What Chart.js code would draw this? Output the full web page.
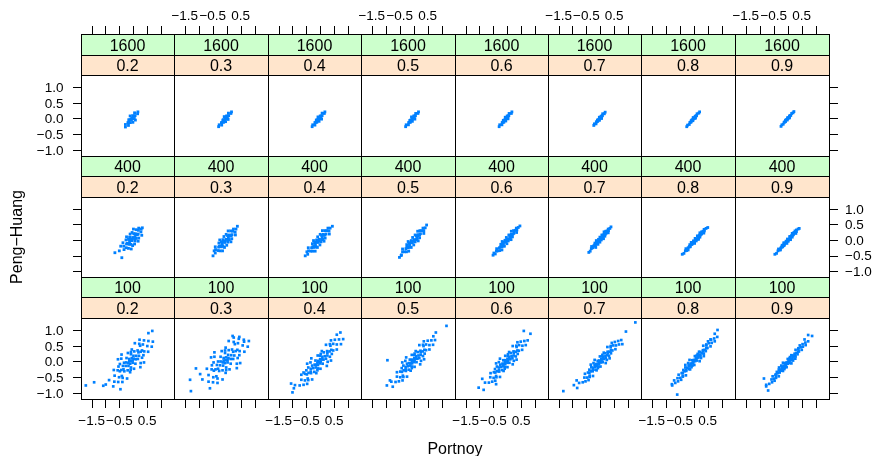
<!DOCTYPE html>
<html><head><meta charset="utf-8">
<script src="https://cdn.jsdelivr.net/npm/chart.js@4.4.1/dist/chart.umd.min.js"></script>
<style>
html,body{margin:0;padding:0;background:#fff;}
#wrap{position:relative;width:874px;height:456px;overflow:hidden;background:#fff;}
#wrap canvas{position:absolute;left:0;top:0;}
</style></head>
<body><div id="wrap"></div>
<script>
// ---------- categories & ticks ----------
const sampleSizes = ['1600', '400', '100'];
const tauLevels = ['0.2','0.3','0.4','0.5','0.6','0.7','0.8','0.9'];
const xTickValues = [-1.5, -1, -0.5, 0, 0.5, 1];
const xLabelValues = [-1.5, -0.5, 0.5];
const xLabelTexts = ['\u22121.5', '\u22120.5', '0.5'];
const yTickValues = [-1, -0.5, 0, 0.5, 1];
const yLabelTexts = ['\u22121.0', '\u22120.5', '0.0', '0.5', '1.0'];
const xRange = [-1.884, 1.474];
const yRange = [-1.19, 1.38];

// ---------- data: [Portnoy, Peng-Huang] pairs ----------
const n1600_t02 = [[-0.06,-0.02],[0.00,-0.01],[-0.12,-0.04],[-0.02,0.09],[-0.10,-0.13],[0.07,0.09],[-0.19,-0.13],[0.05,0.18],[-0.17,-0.22],[0.16,0.15],[-0.28,-0.19],[0.17,0.21],[-0.28,-0.27],[-0.11,0.08],[-0.01,-0.12],[0.08,-0.05],[-0.05,0.01],[-0.07,-0.05],[0.04,0.00],[-0.16,-0.04],[0.04,0.08],[-0.16,-0.12]];
const n1600_t03 = [[-0.06,-0.02],[0.00,0.00],[-0.12,-0.04],[-0.01,0.08],[-0.11,-0.12],[0.07,0.09],[-0.19,-0.13],[0.06,0.17],[-0.18,-0.21],[0.15,0.16],[-0.27,-0.20],[0.17,0.21],[-0.29,-0.26],[-0.09,0.06],[-0.04,-0.10],[0.05,-0.03],[-0.05,0.01],[-0.07,-0.05],[0.02,0.01],[-0.14,-0.05],[0.04,0.08],[-0.16,-0.12]];
const n1600_t04 = [[-0.06,-0.02],[-0.01,0.00],[-0.11,-0.04],[0.00,0.08],[-0.12,-0.12],[0.07,0.09],[-0.19,-0.13],[0.07,0.17],[-0.19,-0.21],[0.15,0.16],[-0.27,-0.20],[0.17,0.21],[-0.29,-0.26],[-0.08,0.05],[-0.04,-0.09],[0.05,-0.02],[-0.05,0.01],[-0.07,-0.05],[0.02,0.01],[-0.14,-0.05],[0.04,0.08],[-0.16,-0.12]];
const n1600_t05 = [[-0.06,-0.02],[-0.01,0.01],[-0.11,-0.05],[0.00,0.08],[-0.12,-0.12],[0.06,0.09],[-0.18,-0.13],[0.07,0.16],[-0.19,-0.20],[0.15,0.16],[-0.27,-0.20],[0.17,0.21],[-0.29,-0.26],[-0.08,0.05],[-0.05,-0.09],[0.04,-0.02],[-0.05,0.01],[-0.07,-0.05],[0.02,0.02],[-0.14,-0.06],[0.04,0.08],[-0.16,-0.12]];
const n1600_t06 = [[-0.06,-0.02],[-0.01,0.01],[-0.11,-0.05],[0.00,0.08],[-0.12,-0.12],[0.06,0.09],[-0.18,-0.13],[0.07,0.16],[-0.19,-0.20],[0.15,0.16],[-0.27,-0.20],[0.17,0.21],[-0.29,-0.26],[-0.07,0.04],[-0.05,-0.08],[0.03,-0.01],[-0.05,0.01],[-0.08,-0.05],[0.02,0.02],[-0.14,-0.06],[0.04,0.08],[-0.16,-0.12]];
const n1600_t07 = [[-0.03,-0.01],[0.01,0.02],[-0.07,-0.04],[0.03,0.07],[-0.09,-0.09],[0.08,0.09],[-0.14,-0.11],[0.09,0.15],[-0.15,-0.17],[0.15,0.15],[-0.21,-0.17],[0.18,0.20],[-0.23,-0.22],[-0.03,0.04],[-0.03,-0.06],[0.05,0.00],[-0.02,0.01],[-0.04,-0.03],[0.04,0.03],[-0.10,-0.05],[0.06,0.08],[-0.12,-0.10]];
const n1600_t08 = [[-0.02,-0.02],[0.03,0.01],[-0.07,-0.05],[0.05,0.07],[-0.09,-0.11],[0.10,0.09],[-0.14,-0.13],[0.12,0.15],[-0.16,-0.19],[0.18,0.17],[-0.22,-0.21],[0.21,0.21],[-0.25,-0.26],[-0.02,0.03],[-0.03,-0.07],[0.06,0.01],[0.00,0.01],[-0.04,-0.04],[0.05,0.03],[-0.09,-0.07],[0.08,0.08],[-0.12,-0.12]];
const n1600_t09 = [[-0.01,-0.01],[0.04,0.02],[-0.06,-0.04],[0.06,0.08],[-0.08,-0.10],[0.11,0.10],[-0.13,-0.12],[0.14,0.16],[-0.16,-0.18],[0.19,0.18],[-0.21,-0.20],[0.22,0.22],[-0.24,-0.25],[0.00,0.03],[-0.02,-0.05],[0.06,0.02],[0.01,0.01],[-0.03,-0.03],[0.06,0.04],[-0.08,-0.06],[0.09,0.09],[-0.11,-0.11]];

const n400_t02 = [[-0.03,0.03],[0.06,0.04],[-0.12,0.02],[0.02,0.20],[-0.08,-0.14],[0.15,0.17],[-0.21,-0.11],[0.11,0.33],[-0.17,-0.27],[0.28,0.26],[-0.34,-0.20],[0.29,0.35],[-0.33,-0.31],[-0.11,0.19],[0.05,-0.13],[0.18,-0.04],[-0.24,0.10],[0.20,0.06],[-0.26,0.00],[0.01,0.35],[-0.07,-0.29],[0.07,-0.03],[-0.13,0.09],[0.07,0.11],[-0.13,-0.05],[0.08,0.20],[-0.14,-0.14],[0.31,0.15],[-0.37,-0.09],[0.20,0.38],[-0.02,0.08],[-0.04,-0.02],[0.11,0.05],[-0.17,0.02],[0.11,0.17],[-0.17,-0.11],[0.18,0.19],[-0.24,-0.13],[0.19,0.31],[-0.25,-0.25],[-0.04,0.24],[-0.02,-0.18],[-0.41,-0.57],[-0.66,-0.41],[0.33,0.39],[-0.50,-0.35],[-0.45,-0.20]];
const n400_t03 = [[-0.05,-0.03],[0.05,0.00],[-0.15,-0.06],[0.03,0.14],[-0.13,-0.20],[0.16,0.14],[-0.26,-0.20],[0.14,0.29],[-0.24,-0.35],[0.30,0.25],[-0.40,-0.31],[0.33,0.35],[-0.41,-0.42],[-0.10,0.11],[0.00,-0.17],[0.15,-0.06],[-0.25,0.00],[0.18,0.04],[-0.28,-0.10],[0.05,0.29],[-0.15,-0.35],[0.04,-0.07],[-0.14,0.01],[0.06,0.07],[-0.16,-0.13],[0.09,0.16],[-0.19,-0.22],[0.31,0.16],[-0.41,-0.22],[0.24,0.35],[-0.03,0.02],[-0.07,-0.08],[0.09,0.01],[-0.19,-0.07],[0.11,0.13],[-0.21,-0.19],[0.19,0.17],[-0.29,-0.23],[0.21,0.28],[-0.31,-0.34],[-0.02,0.18],[-0.08,-0.24],[-0.49,-0.51],[0.38,0.44],[-0.45,-0.35]];
const n400_t04 = [[-0.05,-0.03],[0.05,0.01],[-0.15,-0.07],[0.05,0.15],[-0.15,-0.21],[0.17,0.16],[-0.27,-0.22],[0.17,0.30],[-0.27,-0.36],[0.32,0.29],[-0.42,-0.35],[0.36,0.38],[-0.45,-0.46],[-0.09,0.10],[-0.01,-0.16],[0.14,-0.04],[-0.24,-0.02],[0.18,0.06],[-0.28,-0.12],[0.08,0.30],[-0.18,-0.36],[0.03,-0.06],[-0.13,0.00],[0.07,0.08],[-0.17,-0.14],[0.11,0.18],[-0.21,-0.24],[0.33,0.19],[-0.43,-0.25],[0.28,0.38],[-0.03,0.02],[-0.07,-0.08],[0.10,0.03],[-0.20,-0.09],[0.13,0.15],[-0.23,-0.21],[0.21,0.19],[-0.31,-0.25],[0.24,0.30],[-0.34,-0.36],[0.00,0.18],[-0.10,-0.24],[-0.54,-0.51],[0.44,0.44],[-0.48,-0.38]];
const n400_t05 = [[-0.02,-0.04],[0.08,0.01],[-0.12,-0.09],[0.09,0.14],[-0.13,-0.22],[0.21,0.16],[-0.25,-0.24],[0.22,0.30],[-0.26,-0.38],[0.36,0.30],[-0.40,-0.38],[0.41,0.39],[-0.44,-0.48],[-0.04,0.08],[0.00,-0.16],[0.16,-0.03],[-0.20,-0.05],[0.21,0.07],[-0.25,-0.15],[0.14,0.28],[-0.18,-0.36],[0.05,-0.06],[-0.09,-0.02],[0.11,0.07],[-0.15,-0.15],[0.15,0.17],[-0.19,-0.25],[0.36,0.21],[-0.40,-0.29],[0.33,0.38],[0.01,0.01],[-0.05,-0.09],[0.12,0.03],[-0.16,-0.11],[0.16,0.14],[-0.20,-0.22],[0.24,0.20],[-0.28,-0.28],[0.29,0.30],[-0.33,-0.38],[0.05,0.16],[-0.09,-0.24],[-0.51,-0.56],[0.46,0.48],[-0.45,-0.50]];
const n400_t06 = [[-0.02,-0.02],[0.07,0.03],[-0.11,-0.07],[0.09,0.15],[-0.13,-0.19],[0.20,0.18],[-0.24,-0.22],[0.23,0.30],[-0.27,-0.34],[0.35,0.32],[-0.39,-0.36],[0.40,0.40],[-0.43,-0.45],[-0.03,0.08],[-0.01,-0.12],[0.14,0.01],[-0.18,-0.05],[0.19,0.10],[-0.23,-0.14],[0.15,0.28],[-0.19,-0.32],[0.04,-0.03],[-0.08,-0.01],[0.10,0.09],[-0.14,-0.13],[0.15,0.18],[-0.19,-0.22],[0.34,0.24],[-0.38,-0.28],[0.33,0.38],[0.01,0.03],[-0.05,-0.07],[0.11,0.05],[-0.15,-0.09],[0.16,0.16],[-0.20,-0.20],[0.24,0.21],[-0.28,-0.25],[0.29,0.31],[-0.33,-0.35],[0.06,0.16],[-0.10,-0.20],[-0.51,-0.49],[0.46,0.45],[-0.48,-0.42]];
const n400_t07 = [[-0.01,0.01],[0.06,0.06],[-0.08,-0.04],[0.09,0.15],[-0.11,-0.09],[0.18,0.18],[-0.20,-0.16],[0.20,0.28],[-0.22,-0.20],[0.30,0.30],[-0.32,-0.28],[0.35,0.37],[-0.36,-0.36],[-0.01,0.09],[-0.01,-0.07],[0.12,0.04],[-0.14,-0.02],[0.17,0.12],[-0.19,-0.10],[0.14,0.26],[-0.16,-0.24],[0.04,0.00],[-0.06,0.02],[0.09,0.11],[-0.11,-0.09],[0.14,0.18],[-0.16,-0.14],[0.29,0.23],[-0.31,-0.21],[0.29,0.35],[0.02,0.05],[-0.04,-0.03],[0.10,0.08],[-0.12,-0.06],[0.14,0.16],[-0.16,-0.14],[0.21,0.21],[-0.23,-0.19],[0.25,0.29],[-0.27,-0.25],[0.06,0.16],[-0.08,-0.14],[-0.41,-0.40],[0.39,0.42]];
const n400_t08 = [[0.04,-0.03],[0.12,0.02],[-0.04,-0.08],[0.15,0.12],[-0.07,-0.14],[0.24,0.16],[-0.16,-0.22],[0.28,0.26],[-0.20,-0.32],[0.38,0.29],[-0.30,-0.35],[0.44,0.37],[-0.35,-0.43],[0.05,0.05],[0.03,-0.11],[0.17,0.02],[-0.09,-0.08],[0.22,0.09],[-0.14,-0.15],[0.22,0.23],[-0.14,-0.21],[0.09,-0.03],[-0.01,-0.03],[0.15,0.08],[-0.07,-0.14],[0.21,0.16],[-0.13,-0.22],[0.36,0.22],[-0.28,-0.28],[0.37,0.34],[0.07,0.01],[0.01,-0.07],[0.16,0.05],[-0.08,-0.11],[0.21,0.14],[-0.13,-0.20],[0.28,0.19],[-0.20,-0.25],[0.33,0.28],[-0.25,-0.34],[0.13,0.13],[-0.05,-0.12],[-0.41,-0.46],[0.50,0.40]];
const n400_t09 = [[-0.02,-0.04],[0.06,0.02],[-0.10,-0.10],[0.09,0.10],[-0.13,-0.18],[0.18,0.15],[-0.22,-0.23],[0.22,0.24],[-0.26,-0.32],[0.31,0.27],[-0.35,-0.35],[0.37,0.35],[-0.40,-0.43],[-0.01,0.03],[-0.03,-0.11],[0.10,0.01],[-0.14,-0.09],[0.16,0.09],[-0.20,-0.17],[0.16,0.21],[-0.20,-0.22],[0.02,-0.04],[-0.06,-0.04],[0.09,0.07],[-0.13,-0.15],[0.14,0.14],[-0.18,-0.22],[0.29,0.21],[-0.33,-0.29],[0.31,0.32],[0.01,0.00],[-0.05,-0.08],[0.09,0.04],[-0.13,-0.12],[0.14,0.12],[-0.18,-0.20],[0.21,0.18],[-0.25,-0.26],[0.26,0.29],[-0.30,-0.32],[0.07,0.11],[-0.11,-0.13],[-0.46,-0.46],[0.41,0.37]];

const n100_t02 = [[-0.08,0.02],[0.09,0.07],[-0.25,-0.03],[0.04,0.32],[-0.20,-0.28],[0.27,0.31],[-0.43,-0.27],[0.22,0.56],[-0.38,-0.52],[0.51,0.49],[-0.67,-0.45],[0.55,0.65],[-0.68,-0.64],[-0.19,0.27],[0.03,-0.23],[0.27,-0.05],[-0.43,0.09],[0.32,0.12],[-0.48,-0.08],[0.06,0.58],[-0.22,-0.54],[0.08,-0.07],[-0.24,0.11],[0.11,0.18],[-0.27,-0.14],[0.16,0.35],[-0.32,-0.31],[0.54,0.31],[-0.70,-0.27],[0.39,0.67],[-0.54,-0.65],[0.26,-0.18],[-0.42,0.22],[0.40,0.32],[-0.56,-0.28],[-0.08,0.30],[-0.09,-0.26],[0.71,0.63],[-0.87,-0.59],[0.23,0.69],[-0.39,-0.65],[0.39,-0.03],[-0.55,0.07],[-0.14,0.08],[-0.02,-0.04],[0.02,0.09],[-0.18,-0.05],[0.67,0.47],[-0.05,0.11],[-0.11,-0.07],[0.17,0.08],[-0.33,-0.04],[0.19,0.29],[-0.35,-0.25],[0.32,0.35],[-0.48,-0.31],[0.35,0.54],[-0.51,-0.50],[-0.05,0.38],[-0.11,-0.34],[0.37,0.20],[-0.53,-0.16],[0.25,0.50],[-0.41,-0.46],[-0.08,0.23],[-0.08,-0.19],[0.21,0.18],[-0.37,-0.14],[-0.02,0.03],[-0.14,0.01],[0.01,0.18],[-0.17,-0.14],[-1.71,-0.76],[-1.41,-0.66],[-1.08,-0.77],[-0.99,-0.73],[-0.72,-0.79],[-0.46,-0.88],[0.69,0.97],[0.55,0.90]];
const n100_t03 = [[-0.04,0.04],[0.14,0.08],[-0.22,0.00],[0.07,0.36],[-0.15,-0.28],[0.32,0.33],[-0.40,-0.25],[0.25,0.62],[-0.33,-0.54],[0.57,0.51],[-0.65,-0.43],[0.61,0.69],[-0.65,-0.64],[-0.18,0.33],[0.10,-0.25],[0.36,-0.07],[-0.44,0.15],[0.39,0.11],[-0.47,-0.03],[0.07,0.65],[-0.15,-0.57],[0.14,-0.07],[-0.22,0.15],[0.16,0.20],[-0.24,-0.12],[0.19,0.38],[-0.27,-0.30],[0.63,0.31],[-0.71,-0.23],[0.43,0.72],[-0.49,-0.66],[0.36,-0.21],[-0.44,0.29],[0.46,0.33],[-0.54,-0.25],[-0.06,0.35],[-0.02,-0.27],[0.79,0.65],[-0.87,-0.57],[0.25,0.76],[-0.33,-0.68],[0.48,-0.05],[-0.56,0.13],[-0.11,0.11],[0.03,-0.03],[0.06,0.11],[-0.14,-0.03],[0.75,0.47],[-0.02,0.13],[-0.06,-0.05],[0.23,0.08],[-0.31,0.00],[0.23,0.31],[-0.31,-0.23],[0.38,0.37],[-0.46,-0.29],[0.40,0.58],[-0.48,-0.50],[-0.04,0.44],[-0.04,-0.36],[0.45,0.20],[-0.53,-0.12],[0.29,0.55],[-0.37,-0.47],[-0.06,0.27],[-0.02,-0.19],[0.27,0.19],[-0.35,-0.11],[0.03,0.05],[-0.11,0.03],[0.05,0.21],[-0.13,-0.13],[-1.28,-0.94],[-1.31,-0.58],[-1.10,-0.22],[-0.95,-0.40],[0.21,0.81],[0.45,0.78],[0.62,0.63],[-0.60,-0.85]];
const n100_t04 = [[-0.04,-0.02],[0.12,0.06],[-0.20,-0.10],[0.13,0.29],[-0.21,-0.33],[0.34,0.32],[-0.42,-0.36],[0.35,0.55],[-0.43,-0.59],[0.60,0.54],[-0.68,-0.58],[0.68,0.70],[-0.74,-0.76],[-0.09,0.19],[0.01,-0.23],[0.27,-0.01],[-0.35,-0.03],[0.35,0.15],[-0.43,-0.19],[0.21,0.53],[-0.29,-0.57],[0.09,-0.07],[-0.17,0.03],[0.17,0.17],[-0.25,-0.21],[0.25,0.33],[-0.33,-0.37],[0.60,0.38],[-0.68,-0.42],[0.53,0.69],[-0.60,-0.74],[0.24,-0.14],[-0.32,0.10],[0.47,0.35],[-0.55,-0.39],[0.02,0.24],[-0.10,-0.28],[0.83,0.71],[-0.91,-0.75],[0.39,0.67],[-0.47,-0.71],[0.39,0.03],[-0.47,-0.07],[-0.08,0.02],[0.00,-0.06],[0.07,0.07],[-0.15,-0.11],[0.75,0.55],[0.00,0.07],[-0.08,-0.11],[0.21,0.09],[-0.29,-0.13],[0.26,0.28],[-0.34,-0.32],[0.40,0.37],[-0.48,-0.41],[0.47,0.56],[-0.55,-0.60],[0.06,0.33],[-0.14,-0.37],[0.42,0.24],[-0.50,-0.28],[0.37,0.50],[-0.45,-0.54],[0.00,0.18],[-0.08,-0.22],[0.26,0.19],[-0.34,-0.23],[0.02,0.00],[-0.10,-0.04],[0.08,0.15],[-0.16,-0.19],[-1.00,-0.98],[-0.95,-0.85],[0.73,0.92],[0.60,0.85],[-0.60,-0.35],[-1.05,-0.70]];
const n100_t05 = [[-0.02,0.02],[0.13,0.09],[-0.17,-0.05],[0.14,0.30],[-0.18,-0.26],[0.32,0.32],[-0.36,-0.28],[0.33,0.53],[-0.37,-0.49],[0.56,0.52],[-0.60,-0.48],[0.63,0.67],[-0.65,-0.65],[-0.07,0.21],[0.03,-0.17],[0.26,0.02],[-0.30,0.02],[0.33,0.17],[-0.37,-0.13],[0.20,0.52],[-0.24,-0.48],[0.10,-0.02],[-0.14,0.06],[0.17,0.19],[-0.21,-0.15],[0.24,0.34],[-0.28,-0.30],[0.56,0.38],[-0.60,-0.34],[0.50,0.66],[-0.53,-0.63],[0.23,-0.09],[-0.27,0.13],[0.44,0.36],[-0.48,-0.32],[0.03,0.25],[-0.07,-0.21],[0.76,0.68],[-0.80,-0.64],[0.36,0.64],[-0.40,-0.60],[0.37,0.07],[-0.41,-0.03],[-0.06,0.06],[0.02,-0.02],[0.08,0.10],[-0.12,-0.06],[0.69,0.53],[0.02,0.10],[-0.06,-0.06],[0.20,0.11],[-0.24,-0.07],[0.25,0.29],[-0.29,-0.25],[0.38,0.37],[-0.42,-0.33],[0.44,0.54],[-0.48,-0.50],[0.07,0.33],[-0.11,-0.29],[0.39,0.25],[-0.43,-0.21],[0.35,0.49],[-0.39,-0.45],[0.02,0.20],[-0.06,-0.16],[0.25,0.21],[-0.29,-0.17],[0.03,0.04],[-0.07,0.00],[0.09,0.17],[-0.13,-0.13],[-0.96,-0.76],[-0.94,0.04],[1.17,1.13],[0.79,0.92],[0.70,0.80],[-0.85,-0.60],[-0.75,-0.80]];
const n100_t06 = [[-0.03,0.00],[0.11,0.07],[-0.17,-0.07],[0.13,0.27],[-0.19,-0.27],[0.31,0.31],[-0.37,-0.31],[0.33,0.50],[-0.39,-0.50],[0.55,0.50],[-0.61,-0.50],[0.62,0.65],[-0.66,-0.67],[-0.07,0.18],[0.01,-0.18],[0.24,0.02],[-0.30,-0.02],[0.31,0.16],[-0.37,-0.16],[0.20,0.49],[-0.26,-0.49],[0.08,-0.04],[-0.14,0.04],[0.16,0.17],[-0.22,-0.17],[0.23,0.32],[-0.29,-0.32],[0.54,0.37],[-0.60,-0.37],[0.49,0.63],[-0.54,-0.64],[0.20,-0.09],[-0.26,0.09],[0.42,0.34],[-0.48,-0.34],[0.03,0.23],[-0.09,-0.23],[0.74,0.67],[-0.80,-0.67],[0.37,0.61],[-0.43,-0.61],[0.34,0.06],[-0.40,-0.06],[-0.07,0.04],[0.01,-0.04],[0.07,0.08],[-0.13,-0.08],[0.67,0.52],[0.01,0.08],[-0.07,-0.08],[0.19,0.10],[-0.25,-0.10],[0.24,0.27],[-0.30,-0.27],[0.37,0.35],[-0.43,-0.35],[0.43,0.52],[-0.49,-0.52],[0.07,0.30],[-0.13,-0.30],[0.38,0.24],[-0.44,-0.24],[0.34,0.46],[-0.40,-0.46],[0.02,0.17],[-0.08,-0.17],[0.24,0.19],[-0.30,-0.19],[0.02,0.02],[-0.08,-0.02],[0.08,0.15],[-0.14,-0.15],[-1.03,-0.83],[-0.85,-0.90],[0.60,0.97],[0.84,0.88],[-0.90,-0.55],[-0.40,-0.72]];
const n100_t07 = [[0.00,0.00],[0.14,0.08],[-0.14,-0.08],[0.17,0.26],[-0.17,-0.26],[0.34,0.31],[-0.34,-0.31],[0.38,0.49],[-0.38,-0.49],[0.57,0.51],[-0.57,-0.51],[0.65,0.65],[-0.63,-0.66],[-0.01,0.16],[0.01,-0.16],[0.24,0.05],[-0.24,-0.05],[0.32,0.18],[-0.32,-0.18],[0.26,0.46],[-0.26,-0.46],[0.09,-0.02],[-0.09,0.02],[0.19,0.17],[-0.19,-0.17],[0.27,0.31],[-0.27,-0.31],[0.55,0.39],[-0.55,-0.39],[0.53,0.62],[-0.53,-0.63],[0.20,-0.05],[-0.20,0.05],[0.44,0.35],[-0.44,-0.35],[0.08,0.21],[-0.08,-0.21],[0.76,0.68],[-0.76,-0.68],[0.42,0.59],[-0.42,-0.59],[0.34,0.10],[-0.34,-0.10],[-0.03,0.03],[0.03,-0.03],[0.09,0.08],[-0.09,-0.08],[0.68,0.54],[0.04,0.07],[-0.04,-0.07],[0.20,0.11],[-0.20,-0.11],[0.27,0.27],[-0.27,-0.27],[0.39,0.36],[-0.39,-0.36],[0.47,0.51],[-0.47,-0.51],[0.13,0.28],[-0.13,-0.28],[0.39,0.26],[-0.39,-0.26],[0.38,0.45],[-0.38,-0.45],[0.06,0.16],[-0.06,-0.16],[0.26,0.20],[-0.26,-0.20],[0.05,0.03],[-0.05,-0.03],[0.11,0.15],[-0.11,-0.15],[-1.33,-0.94],[-0.83,-0.84],[1.27,1.24],[0.93,0.95],[-0.85,-0.60],[0.80,0.55],[-0.95,-0.75]];
const n100_t08 = [[0.03,0.03],[0.17,0.13],[-0.11,-0.07],[0.23,0.30],[-0.17,-0.24],[0.39,0.37],[-0.33,-0.31],[0.45,0.54],[-0.39,-0.48],[0.64,0.59],[-0.58,-0.53],[0.73,0.73],[-0.66,-0.68],[0.04,0.17],[0.02,-0.11],[0.26,0.11],[-0.20,-0.05],[0.36,0.25],[-0.30,-0.19],[0.34,0.50],[-0.28,-0.44],[0.11,0.03],[-0.05,0.04],[0.23,0.22],[-0.17,-0.16],[0.33,0.36],[-0.27,-0.30],[0.60,0.48],[-0.54,-0.42],[0.62,0.69],[-0.56,-0.63],[0.21,0.01],[-0.15,0.05],[0.49,0.43],[-0.43,-0.37],[0.14,0.24],[-0.08,-0.18],[0.84,0.78],[-0.78,-0.72],[0.51,0.64],[-0.45,-0.58],[0.36,0.17],[-0.30,-0.11],[0.01,0.05],[0.05,0.01],[0.13,0.12],[-0.07,-0.06],[0.75,0.64],[0.08,0.10],[-0.02,-0.04],[0.24,0.17],[-0.18,-0.11],[0.33,0.33],[-0.27,-0.27],[0.45,0.42],[-0.39,-0.36],[0.54,0.58],[-0.48,-0.52],[0.19,0.31],[-0.13,-0.25],[0.43,0.33],[-0.37,-0.27],[0.45,0.51],[-0.39,-0.45],[0.11,0.19],[-0.05,-0.13],[0.30,0.26],[-0.24,-0.20],[0.08,0.06],[-0.02,0.00],[0.16,0.18],[-0.10,-0.12],[-0.59,-1.05],[-0.77,-0.76],[0.85,1.00],[0.75,0.88],[-0.70,-0.60],[0.60,0.70]];
const n100_t09 = [[-0.02,-0.05],[0.11,0.04],[-0.15,-0.14],[0.17,0.19],[-0.21,-0.29],[0.31,0.27],[-0.35,-0.37],[0.38,0.42],[-0.42,-0.52],[0.54,0.47],[-0.58,-0.57],[0.63,0.60],[-0.66,-0.71],[0.00,0.08],[-0.04,-0.18],[0.19,0.03],[-0.23,-0.13],[0.28,0.16],[-0.32,-0.26],[0.28,0.37],[-0.32,-0.47],[0.05,-0.05],[-0.09,-0.05],[0.17,0.13],[-0.21,-0.23],[0.25,0.25],[-0.29,-0.35],[0.50,0.37],[-0.54,-0.47],[0.53,0.55],[-0.56,-0.66],[0.13,-0.06],[-0.17,-0.04],[0.40,0.32],[-0.44,-0.42],[0.08,0.14],[-0.12,-0.24],[0.73,0.64],[-0.77,-0.74],[0.43,0.51],[-0.47,-0.61],[0.27,0.09],[-0.31,-0.19],[-0.04,-0.03],[0.00,-0.07],[0.07,0.03],[-0.11,-0.13],[0.64,0.52],[0.03,0.02],[-0.07,-0.12],[0.17,0.08],[-0.21,-0.18],[0.25,0.22],[-0.29,-0.32],[0.37,0.31],[-0.41,-0.41],[0.46,0.45],[-0.50,-0.55],[0.13,0.20],[-0.17,-0.30],[0.35,0.23],[-0.39,-0.33],[0.38,0.39],[-0.42,-0.49],[0.06,0.09],[-0.10,-0.19],[0.23,0.16],[-0.27,-0.26],[0.02,-0.02],[-0.06,-0.08],[0.10,0.09],[-0.14,-0.19],[-0.85,-0.54],[-0.77,-0.79],[0.73,0.84],[0.87,0.81],[-0.70,-0.92],[0.60,0.70]];

const panelData = [
  [n1600_t02, n1600_t03, n1600_t04, n1600_t05, n1600_t06, n1600_t07, n1600_t08, n1600_t09],
  [n400_t02, n400_t03, n400_t04, n400_t05, n400_t06, n400_t07, n400_t08, n400_t09],
  [n100_t02, n100_t03, n100_t04, n100_t05, n100_t06, n100_t07, n100_t08, n100_t09]
];

// ---------- layout ----------
const W = 874, H = 456;
const colEdges = [81, 174, 268, 361, 455, 548, 641, 735, 829];
const rowStripTop = [34, 156, 277];
const rowStripMid = [55, 176, 297];
const rowPanelTop = [75, 197, 318];
const rowPanelBottom = [156, 277, 399];
const TICK = 8;
const FONT = '"Liberation Sans", Arial, Helvetica, sans-serif';
const pointColor = '#0080ff';
const pointSizeByRow = [2.0, 2.0, 1.9];

const latticePlugin = {
  id: 'lattice',
  afterDraw(chart, args, opts) {
    const ctx = chart.ctx;
    const r = opts.r, c = opts.c;
    const xs = chart.scales.x, ys = chart.scales.y;
    const x0 = colEdges[c], x1 = colEdges[c + 1];
    const s0 = rowStripTop[r], s1 = rowStripMid[r], s2 = rowPanelTop[r], pb = rowPanelBottom[r];
    ctx.save();
    ctx.fillStyle = '#CCFFCC';
    ctx.fillRect(x0, s0, x1 - x0, s1 - s0);
    ctx.fillStyle = '#FFE5CC';
    ctx.fillRect(x0, s1, x1 - x0, s2 - s1);
    ctx.strokeStyle = '#000';
    ctx.lineWidth = 1;
    ctx.strokeRect(x0 + 0.5, s0 + 0.5, x1 - x0, s1 - s0);
    ctx.strokeRect(x0 + 0.5, s1 + 0.5, x1 - x0, s2 - s1);
    ctx.strokeRect(x0 + 0.5, s2 + 0.5, x1 - x0, pb - s2);
    ctx.fillStyle = '#000';
    ctx.font = '16px ' + FONT;
    ctx.textAlign = 'center';
    ctx.textBaseline = 'alphabetic';
    ctx.fillText(sampleSizes[r], (x0 + x1) / 2, s1 - 4.3);
    ctx.fillText(tauLevels[c], (x0 + x1) / 2, s2 - 4.3);

    ctx.font = '13.5px ' + FONT;
    ctx.beginPath();
    if (r === 0) {
      xTickValues.forEach(v => { const p = Math.round(xs.getPixelForValue(v)) + 0.5; ctx.moveTo(p, s0); ctx.lineTo(p, s0 - TICK); });
    }
    if (r === 2) {
      xTickValues.forEach(v => { const p = Math.round(xs.getPixelForValue(v)) + 0.5; ctx.moveTo(p, pb + 1); ctx.lineTo(p, pb + 1 + TICK); });
    }
    if (c === 0) {
      yTickValues.forEach(v => { const p = Math.round(ys.getPixelForValue(v)) + 0.5; ctx.moveTo(x0, p); ctx.lineTo(x0 - TICK, p); });
    }
    if (c === 7) {
      yTickValues.forEach(v => { const p = Math.round(ys.getPixelForValue(v)) + 0.5; ctx.moveTo(x1 + 1, p); ctx.lineTo(x1 + 1 + TICK, p); });
    }
    ctx.stroke();

    ctx.textAlign = 'center';
    ctx.textBaseline = 'alphabetic';
    if (r === 0 && c % 2 === 1) {
      xLabelValues.forEach((v, i) => ctx.fillText(xLabelTexts[i], xs.getPixelForValue(v), 19.5));
    }
    if (r === 2 && c % 2 === 0) {
      xLabelValues.forEach((v, i) => ctx.fillText(xLabelTexts[i], xs.getPixelForValue(v), 425));
    }
    if (c === 0 && r !== 1) {
      ctx.textAlign = 'right';
      yTickValues.forEach((v, i) => ctx.fillText(yLabelTexts[i], 63.5, ys.getPixelForValue(v) + 4.8));
    }
    if (c === 7 && r === 1) {
      ctx.textAlign = 'left';
      yTickValues.forEach((v, i) => ctx.fillText(yLabelTexts[i], 845, ys.getPixelForValue(v) + 4.8));
    }

    if (opts.titles) {
      ctx.font = '16px ' + FONT;
      ctx.textAlign = 'center';
      ctx.textBaseline = 'alphabetic';
      ctx.fillText('Portnoy', (colEdges[0] + colEdges[8]) / 2, 454);
      ctx.save();
      ctx.translate(21.5, (rowPanelTop[0] + rowPanelBottom[2]) / 2);
      ctx.rotate(-Math.PI / 2);
      ctx.fillText('Peng\u2212Huang', 0, 0);
      ctx.restore();
    }
    ctx.restore();
  }
};

const wrap = document.getElementById('wrap');
for (let r = 0; r < 3; r++) {
  for (let c = 0; c < 8; c++) {
    const cv = document.createElement('canvas');
    cv.width = W; cv.height = H;
    cv.style.width = W + 'px'; cv.style.height = H + 'px';
    wrap.appendChild(cv);
    const rad = pointSizeByRow[r];
    new Chart(cv, {
      type: 'scatter',
      data: {
        datasets: [{
          data: panelData[r][c].map(p => ({ x: p[0], y: p[1] })),
          pointStyle: 'rect',
          pointRadius: rad,
          pointHoverRadius: rad,
          pointBorderWidth: 0,
          pointBackgroundColor: pointColor,
          backgroundColor: pointColor,
          borderWidth: 0
        }]
      },
      options: {
        responsive: false,
        animation: false,
        devicePixelRatio: 1,
        events: [],
        layout: { padding: { left: colEdges[c], right: W - colEdges[c + 1], top: rowPanelTop[r], bottom: H - rowPanelBottom[r] } },
        plugins: {
          legend: { display: false },
          tooltip: { enabled: false },
          lattice: { r: r, c: c, titles: (r === 0 && c === 0) }
        },
        scales: {
          x: { type: 'linear', min: xRange[0], max: xRange[1], display: false },
          y: { type: 'linear', min: yRange[0], max: yRange[1], display: false }
        }
      },
      plugins: [latticePlugin]
    });
  }
}
</script>
</body></html>
